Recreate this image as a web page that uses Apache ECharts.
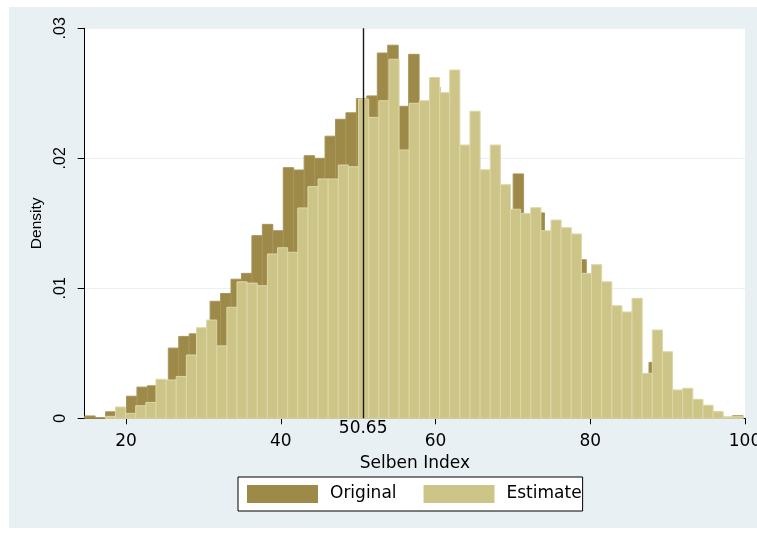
<!DOCTYPE html>
<html>
<head>
<meta charset="utf-8">
<script src="https://cdn.jsdelivr.net/npm/echarts@6/dist/echarts.min.js"></script>
<style>
  html, body { margin: 0; padding: 0; background: #ffffff; }
  #chart { position: absolute; left: 9px; top: 7px; width: 748px; height: 521px; }
</style>
</head>
<body>
<div id="chart"></div>
<script>
// ---- data ----
const xTicks = [20, 40, 60, 80, 100];
const yTicks = [0, 0.01, 0.02, 0.03];
const refValue = 50.65;
const refLabel = '50.65';
const seriesNames = ['Original', 'Estimate'];

// Original histogram: 63 bins starting at 14.66, width 1.3506
const originalBinStart = 14.66;
const originalBinWidth = 1.3506;
const originalDensity = [
  0.00018, 0.00005, 0.0005, 0.0008, 0.0017, 0.0024, 0.0025, 0.0028, 0.0054, 0.0063,
  0.0065, 0.0068, 0.0090, 0.0096, 0.0107, 0.01115, 0.01405, 0.01492, 0.01443, 0.01928,
  0.0191, 0.0202, 0.0200, 0.0217, 0.0230, 0.0235, 0.0246, 0.0248, 0.0281, 0.0287,
  0.0240, 0.0280, 0.0240, 0.0255, 0.0245, 0.0205, 0.0205, 0.0188, 0.0188, 0.0177,
  0.0159, 0.0188, 0.0155, 0.0158, 0.0142, 0.0145, 0.0140, 0.0122, 0.0110, 0.0104,
  0.0085, 0.0080, 0.0080, 0.0033, 0.0043, 0.0050, 0.0021, 0.0021, 0.0014, 0.00095,
  0.00048, 0.00008, 0.0002
];

// Estimate histogram: 63 bins starting at 17.325, width 1.3092
const estimateBinStart = 17.325;
const estimateBinWidth = 1.3092;
const estimateDensity = [
  0.00015, 0.00087, 0.00038, 0.00097, 0.00122, 0.0030, 0.00295, 0.00322, 0.00487, 0.00697,
  0.00756, 0.00557, 0.00854, 0.0105, 0.0104, 0.0102, 0.01264, 0.01312, 0.01277, 0.01618,
  0.01782, 0.01841, 0.01841, 0.01948, 0.01935, 0.02456, 0.02315, 0.02443, 0.02762, 0.02064,
  0.02423, 0.02443, 0.02622, 0.02505, 0.02679, 0.02102, 0.02362, 0.01912, 0.02102, 0.01797,
  0.01608, 0.01575, 0.0162, 0.01443, 0.01525, 0.01466, 0.01418, 0.01115, 0.01182, 0.0105,
  0.00866, 0.00818, 0.00923, 0.00346, 0.00679, 0.00512, 0.00218, 0.00231, 0.00146, 0.0010,
  0.0005, 0.0001, 0.00015
];

// ---- styling ----
const darkFill = '#9d8a48';
const darkStroke = '#a8955a';
const lightFill = '#cdc588';
const lightStroke = '#dcd7a8';
const vFont = '"Liberation Sans", Arial, sans-serif';
const hFont = '"DejaVu Sans", sans-serif';

function toBins(start, width, values) {
  return values.map((v, i) => [start + i * width, start + (i + 1) * width, v]);
}

function makeRender(fill, stroke) {
  return function (params, api) {
    const x0 = api.value(0), x1 = api.value(1), y = api.value(2);
    const p0 = api.coord([x0, y]);
    const p1 = api.coord([x1, 0]);
    return {
      type: 'rect',
      shape: { x: p0[0], y: p0[1], width: p1[0] - p0[0], height: p1[1] - p0[1] },
      style: { fill: fill, stroke: stroke, lineWidth: 1 }
    };
  };
}

const chart = echarts.init(document.getElementById('chart'), null, { renderer: 'canvas' });
chart.setOption({
  backgroundColor: '#e8f0f3',
  animation: false,
  textStyle: { fontFamily: hFont },
  grid: {
    left: 75.7, top: 21.3, right: 12, bottom: 109.7,
    outerBoundsMode: 'none',
    containLabel: false,
    show: true, backgroundColor: '#ffffff', borderWidth: 0
  },
  legend: {
    data: seriesNames,
    left: 229, top: 470,
    orient: 'horizontal',
    padding: [8, 1, 8, 9],
    itemWidth: 71, itemHeight: 18, itemGap: 27,
    icon: 'rect',
    borderColor: '#000000', borderWidth: 1,
    backgroundColor: '#ffffff',
    textStyle: { fontSize: 17, color: '#000000', fontFamily: hFont, padding: [0, 0, 0, 7] }
  },
  xAxis: {
    type: 'value',
    min: originalBinStart, max: 100,
    name: 'Selben Index',
    nameLocation: 'middle',
    nameGap: 31,
    nameTextStyle: { fontSize: 17, color: '#000000', fontFamily: hFont },
    axisLine: { show: true, lineStyle: { color: '#000000', width: 1 } },
    axisTick: { show: true, length: 6, customValues: xTicks, lineStyle: { color: '#000000' } },
    axisLabel: { customValues: xTicks, fontSize: 17, color: '#000000', margin: 15, fontFamily: hFont },
    splitLine: { show: false }
  },
  yAxis: {
    type: 'value',
    min: 0, max: 0.03, interval: 0.01,
    name: 'Density',
    nameLocation: 'middle',
    nameGap: 35,
    nameRotate: 90,
    nameTextStyle: { fontSize: 15.5, color: '#000000', fontFamily: vFont },
    axisLine: { show: true, lineStyle: { color: '#000000', width: 1 } },
    axisTick: { show: true, length: 7, lineStyle: { color: '#000000' } },
    axisLabel: {
      rotate: 90, fontSize: 16, color: '#000000', margin: 16, fontFamily: vFont,
      formatter: function (v) { return v === 0 ? '0' : v.toFixed(2).replace(/^0/, ''); }
    },
    splitLine: { show: true, lineStyle: { color: '#eaf1f3', width: 1 } }
  },
  series: [
    {
      name: seriesNames[0],
      type: 'custom',
      renderItem: makeRender(darkFill, darkStroke),
      itemStyle: { color: darkFill },
      encode: { x: [0, 1], y: 2 },
      data: toBins(originalBinStart, originalBinWidth, originalDensity),
      z: 2
    },
    {
      name: seriesNames[1],
      type: 'custom',
      renderItem: makeRender(lightFill, lightStroke),
      itemStyle: { color: lightFill },
      encode: { x: [0, 1], y: 2 },
      data: toBins(estimateBinStart, estimateBinWidth, estimateDensity),
      z: 3,
      markLine: {
        silent: true,
        symbol: ['none', 'none'],
        animation: false,
        lineStyle: { color: '#1a1a1a', width: 1.4, type: 'solid' },
        label: {
          show: true, position: 'start', formatter: refLabel, distance: 2,
          fontSize: 17, color: '#000000', fontFamily: hFont
        },
        data: [{ xAxis: refValue }]
      }
    }
  ]
});
</script>
</body>
</html>
